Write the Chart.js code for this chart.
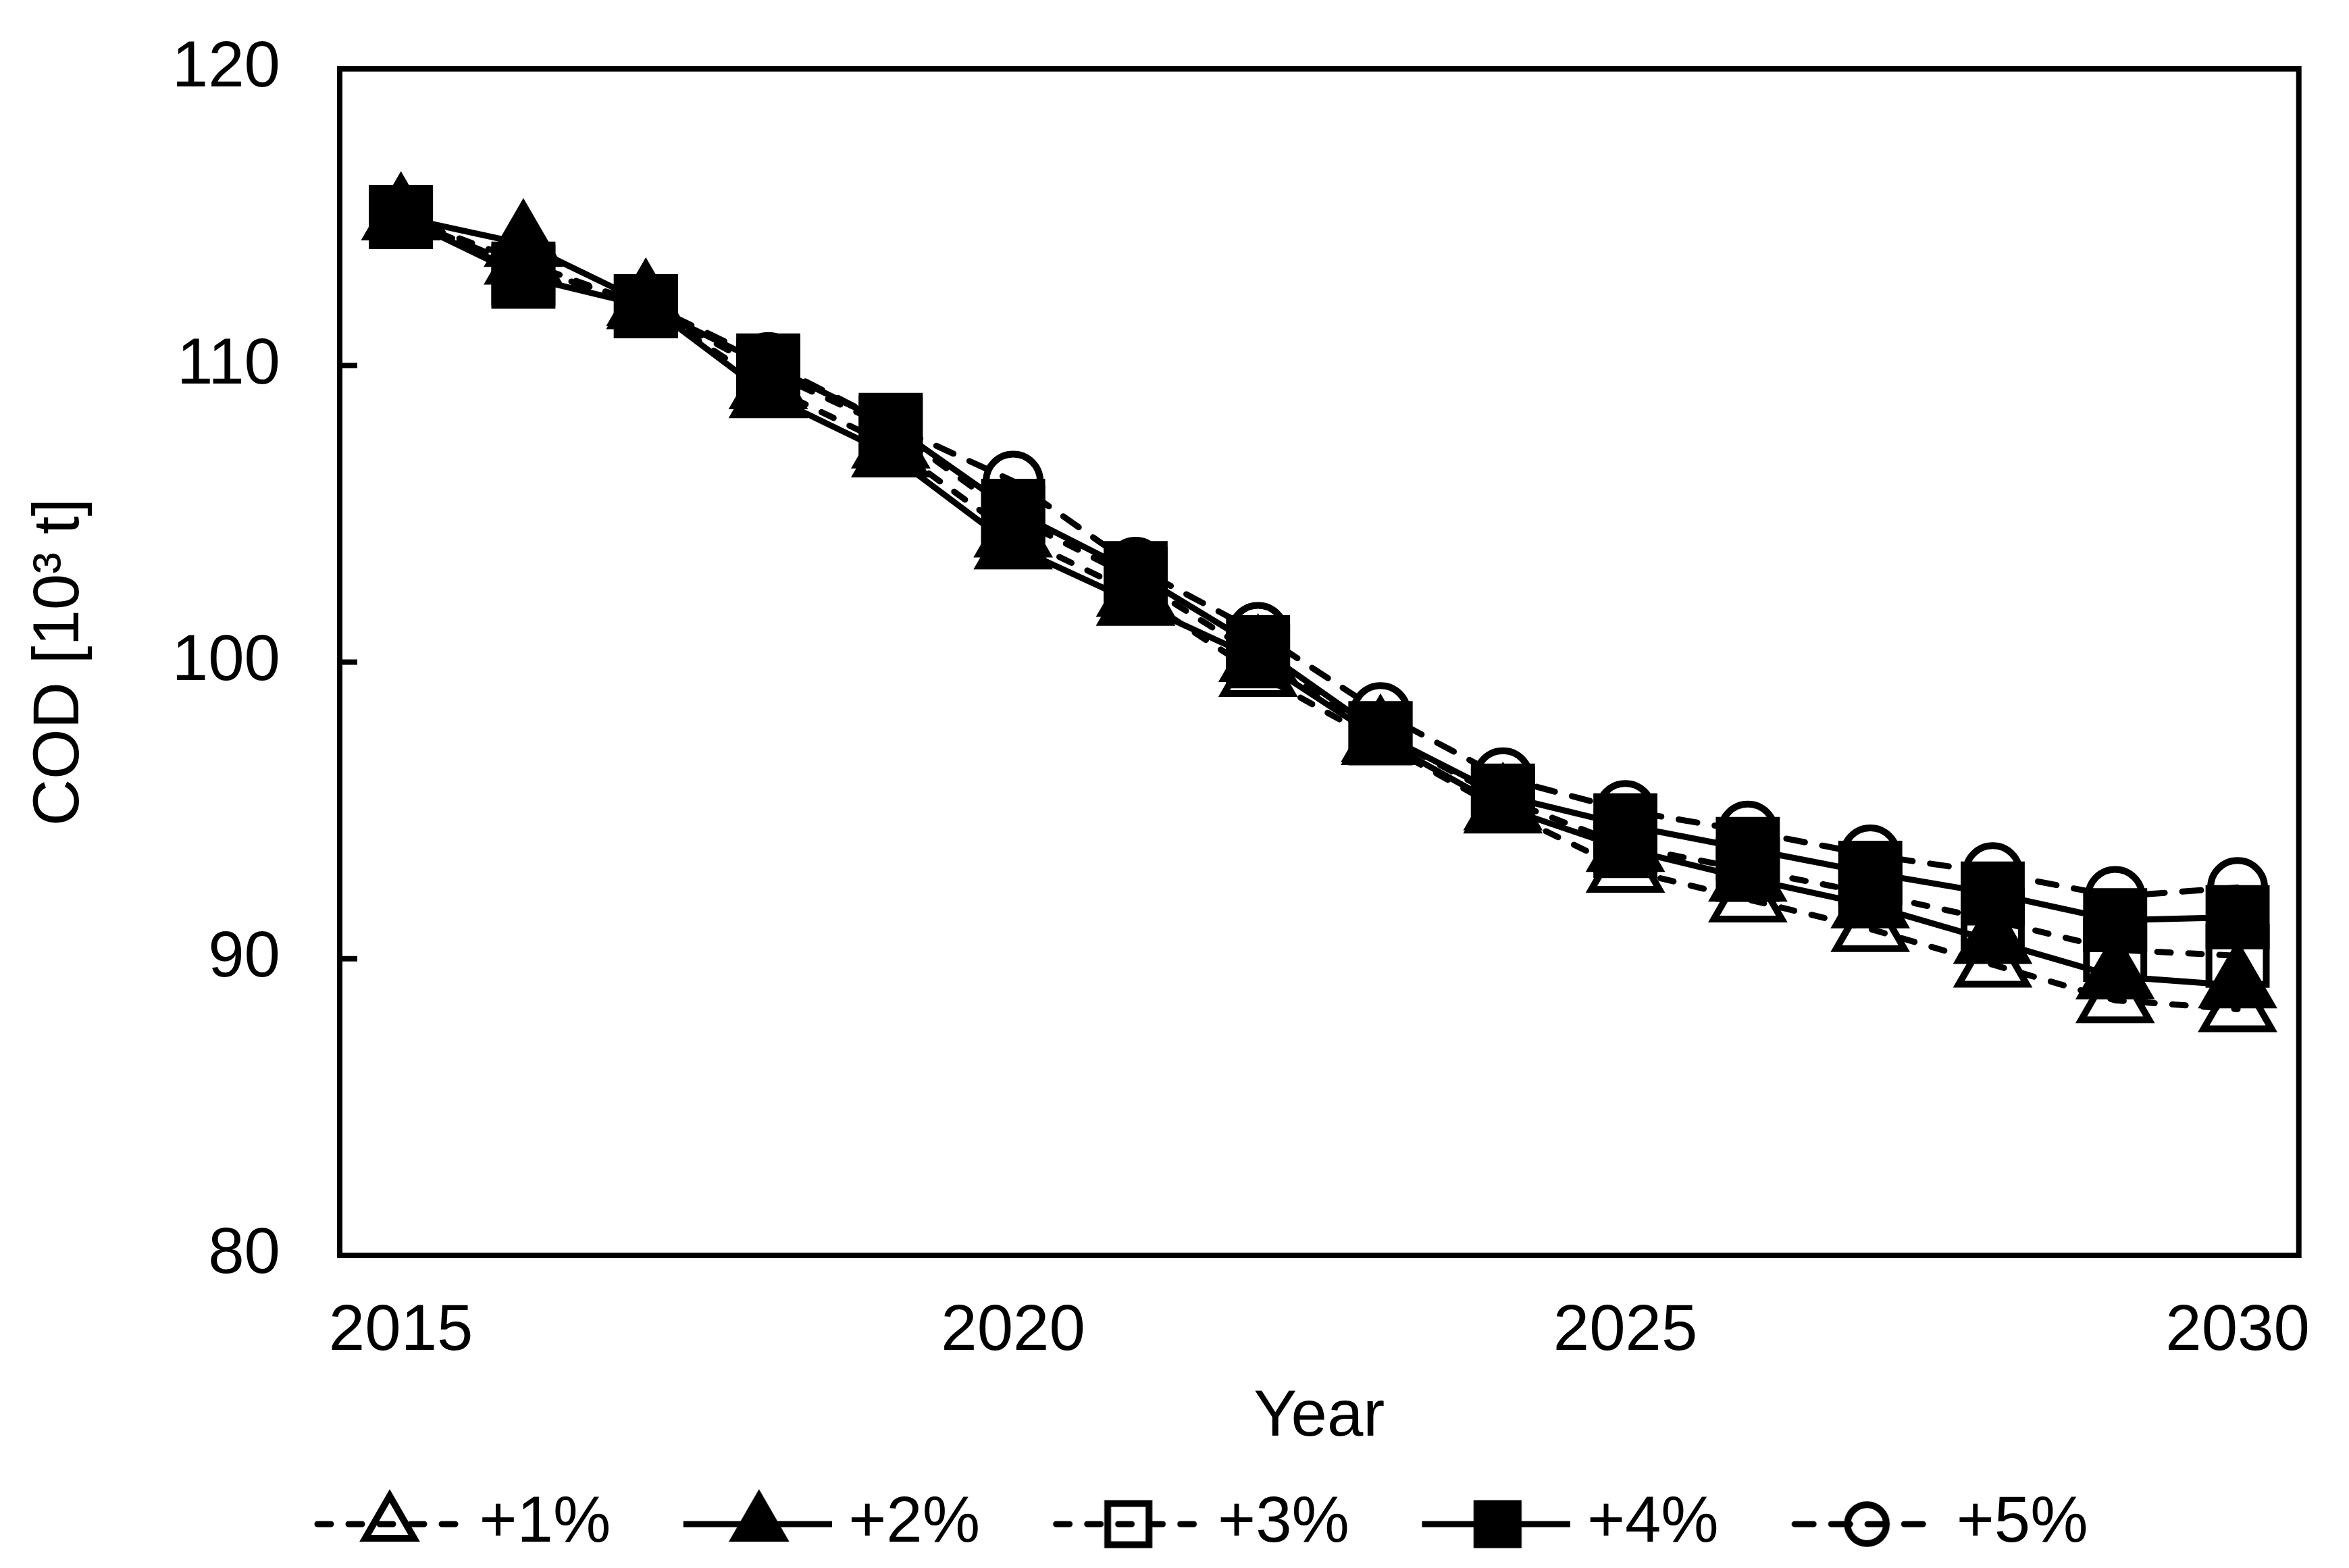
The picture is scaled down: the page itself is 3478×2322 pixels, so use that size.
<!DOCTYPE html>
<html>
<head>
<meta charset="utf-8">
<script src="https://cdn.jsdelivr.net/npm/chart.js@4/dist/chart.umd.min.js"></script>
<style>
  html, body { margin: 0; padding: 0; background: #fff; }
  #wrap { width: 3478px; height: 2322px; }
</style>
</head>
<body>
<div id="wrap"><canvas id="myChart"></canvas></div>
<script>
// years on the x axis and the ones that get a label
const years = [2015, 2016, 2017, 2018, 2019, 2020, 2021, 2022, 2023, 2024, 2025, 2026, 2027, 2028, 2029, 2030]
const labelledYears = [2015, 2020, 2025, 2030]
const yTicks = [80, 90, 100, 110, 120]

const seriesNames = ['+1%', '+2%', '+3%', '+4%', '+5%']

// COD [10^3 t]
const plus1 = [115.0, 113.5, 112.0, 109.3, 107.3, 104.3, 102.3, 99.6, 97.3, 95.0, 93.0, 92.0, 91.0, 89.8, 88.6, 88.3]
const plus2 = [115.0, 114.1, 112.1, 109.0, 107.0, 103.9, 102.0, 100.1, 97.4, 95.1, 93.7, 92.7, 91.8, 90.6, 89.4, 89.1]
const plus3 = [115.0, 113.1, 112.0, 109.8, 107.9, 104.9, 102.8, 100.2, 97.6, 95.4, 93.8, 93.0, 92.2, 91.3, 90.3, 90.1]
const plus4 = [115.0, 113.0, 112.0, 110.0, 108.0, 105.1, 103.0, 100.5, 97.6, 95.5, 94.5, 93.7, 92.9, 92.2, 91.3, 91.4]
const plus5 = [115.0, 113.3, 112.1, 110.1, 108.0, 106.1, 103.2, 101.0, 98.3, 96.1, 95.0, 94.3, 93.5, 92.9, 92.1, 92.4]

const seriesValues = [plus1, plus2, plus3, plus4, plus5]

const FONT = "'Liberation Sans', Arial, sans-serif"
const LINE_W = 9

const styles = [
  { pointStyle: 'triangle', filled: false, dash: [20, 26], radius: 58 },
  { pointStyle: 'triangle', filled: true, dash: [], radius: 58 },
  { pointStyle: 'rect', filled: false, dash: [20, 26], radius: 60 },
  { pointStyle: 'rect', filled: true, dash: [], radius: 60 },
  { pointStyle: 'circle', filled: false, dash: [28, 26], radius: 40 },
]

// line + marker sample used as the legend symbol
function legendImage(s) {
  const c = document.createElement('canvas')
  c.width = 331
  c.height = 120
  const ctx = c.getContext('2d')
  ctx.strokeStyle = '#000'
  ctx.lineWidth = LINE_W
  ctx.lineCap = s.dash.length ? 'round' : 'butt'
  ctx.setLineDash(s.dash)
  ctx.beginPath()
  ctx.moveTo(111 + (s.dash.length ? 5 : 0), 60)
  ctx.lineTo(331 - (s.dash.length ? 5 : 0), 60)
  ctx.stroke()
  ctx.setLineDash([])
  ctx.lineCap = 'butt'
  ctx.fillStyle = s.filled ? '#000' : 'rgba(0,0,0,0)'
  ctx.lineWidth = LINE_W + 1
  Chart.helpers.drawPoint(ctx, {
    pointStyle: s.pointStyle,
    rotation: 0,
    radius: s.radius * 0.72,
    borderWidth: LINE_W + 1,
  }, 223, 60)
  return c
}

const framePlugin = {
  id: 'frame',
  afterDraw(chart) {
    const { ctx, chartArea } = chart
    const y = chart.scales.y
    ctx.save()
    ctx.strokeStyle = '#000'
    ctx.lineWidth = 8
    ctx.strokeRect(chartArea.left, chartArea.top, chartArea.right - chartArea.left, chartArea.bottom - chartArea.top)
    yTicks.forEach(v => {
      const py = y.getPixelForValue(v)
      ctx.beginPath()
      ctx.moveTo(chartArea.left, py)
      ctx.lineTo(chartArea.left + 26, py)
      ctx.stroke()
    })
    ctx.restore()
  },
}

function generateGraph() {
  const graphValues = seriesNames.map((label, i) => {
    const s = styles[i]
    return {
      label,
      data: seriesValues[i],
      borderColor: '#000',
      backgroundColor: s.filled ? '#000' : 'rgba(0,0,0,0)',
      borderWidth: LINE_W,
      borderDash: s.dash,
      borderCapStyle: s.dash.length ? 'round' : 'butt',
      pointStyle: s.pointStyle,
      pointRadius: s.radius,
      pointBorderWidth: LINE_W + 1,
      pointBorderColor: '#000',
      pointBackgroundColor: s.filled ? '#000' : 'rgba(0,0,0,0)',
      tension: 0,
      fill: false,
    }
  })

  const images = styles.map(legendImage)

  const ctx = document.getElementById('myChart').getContext('2d')
  const myChart = new Chart(ctx, {
    type: 'line',
    data: {
      labels: years,
      datasets: graphValues,
    },
    plugins: [framePlugin],
    options: {
      responsive: true,
      maintainAspectRatio: false,
      devicePixelRatio: 1,
      animation: false,
      events: [],
      layout: { autoPadding: false, padding: { left: 60, right: 69, top: 102, bottom: 7 } },
      scales: {
        x: {
          type: 'category',
          offset: true,
          grid: { display: false, drawTicks: false },
          border: { display: false },
          ticks: {
            autoSkip: false,
            maxRotation: 0,
            minRotation: 0,
            padding: 56,
            color: '#000',
            font: { family: FONT, size: 96 },
            callback: (value, index) => labelledYears.includes(years[index]) ? String(years[index]) : '',
          },
          title: {
            display: true,
            text: 'Year',
            color: '#000',
            font: { family: FONT, size: 96 },
            padding: { top: 0, bottom: 32 },
          },
          afterFit: scale => { scale.height = 330 },
        },
        y: {
          min: 80,
          max: 120,
          grid: { display: false, drawTicks: false },
          border: { display: false },
          afterBuildTicks: scale => { scale.ticks = yTicks.map(v => ({ value: v })) },
          ticks: {
            padding: 88,
            color: '#000',
            font: { family: FONT, size: 96, lineHeight: 0.1 },
          },
          title: {
            display: true,
            text: 'COD [10³ t]',
            color: '#000',
            font: { family: FONT, size: 96 },
            padding: { top: -28, bottom: 0 },
          },
          afterFit: scale => { scale.width = 443 },
        },
      },
      plugins: {
        legend: {
          position: 'bottom',
          labels: {
            usePointStyle: true,
            pointStyleWidth: 284,
            padding: 20,
            color: '#000',
            font: { family: FONT, size: 96 },
            generateLabels: chart => chart.data.datasets.map((d, i) => ({
              text: d.label,
              pointStyle: images[i],
              fillStyle: 'rgba(0,0,0,0)',
              strokeStyle: 'rgba(0,0,0,0)',
              lineWidth: 0,
              hidden: false,
              datasetIndex: i,
              fontColor: '#000',
            })),
          },
        },
        tooltip: { enabled: false },
      },
    },
  })
}

generateGraph()
</script>
</body>
</html>
